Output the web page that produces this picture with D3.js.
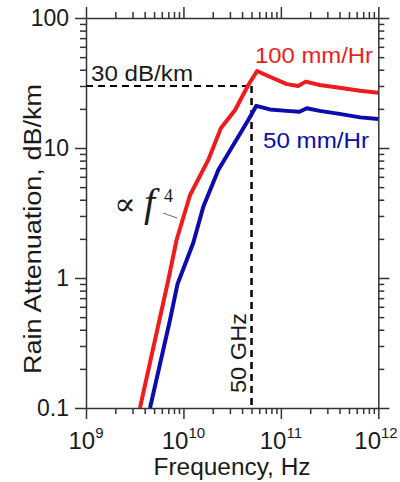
<!DOCTYPE html>
<html><head><meta charset="utf-8">
<script src="https://cdn.jsdelivr.net/npm/d3@7"></script>
<style>
html,body{margin:0;padding:0;background:#fff;}
svg{display:block;font-family:Arial,"Liberation Sans",sans-serif;}
</style></head><body>
<svg id="chart" width="400" height="482"></svg>
<script>
// Specific rain attenuation versus frequency for two rain rates
const freq100 = [3.58e9, 7.0e9, 8.5e9, 1.17e10, 1.8e10, 2.42e10, 3.39e10, 4.63e10, 5.7e10, 7.7e10, 1.15e11, 1.5e11, 1.8e11, 2.5e11, 4.0e11, 6.5e11, 1e12];
const atten100 = [0.1, 0.97, 1.96, 4.35, 8.1, 14.2, 19.6, 30.5, 39.1, 35.3, 31.0, 30.0, 32.4, 30.5, 29.1, 27.6, 26.6];
const freq50 = [4.54e9, 7.28e9, 8.7e9, 1.26e10, 1.6e10, 2.28e10, 4.63e10, 5.6e10, 7.7e10, 1.15e11, 1.55e11, 1.85e11, 2.5e11, 4.0e11, 6.5e11, 1e12];
const atten50 = [0.1, 0.475, 0.9, 1.86, 3.53, 6.78, 16.4, 21.1, 19.8, 19.3, 19.0, 20.2, 19.3, 18.3, 17.2, 16.7];
const xTickExponents = [9, 10, 11, 12];
const yTickValues = [0.1, 1, 10, 100];
const yTickLabels = ["0.1", "1", "10", "100"];
const refAtten = 30;   // dB/km reference level
const refFreq = 5e10;  // 50 GHz marker

const svg = d3.select("#chart");
const L = 86, R = 378.3, T = 18, B = 408;
const x = d3.scaleLog().domain([1e9, 1e12]).range([L, R]);
const y = d3.scaleLog().domain([0.1, 100]).range([B, T]);

const xMajor = xTickExponents.map(e => Math.pow(10, e));
const xMinor = [];
for (let e = 9; e < 12; e++) for (let m = 2; m <= 9; m++) xMinor.push(m * Math.pow(10, e));
const yMinor = [];
for (let e = -1; e < 2; e++) for (let m = 2; m <= 9; m++) yMinor.push(m * Math.pow(10, e));

const axisColor = "#333";
function styleAxis(g) {
  g.selectAll("path.domain").attr("stroke", axisColor).attr("stroke-width", 1.5);
  g.selectAll(".tick line").attr("stroke", axisColor).attr("stroke-width", 1.5);
  g.selectAll(".tick text").remove();
}
function drawAxis(gen, tx, ty, major, minor) {
  const gMaj = svg.append("g").attr("transform", `translate(${tx},${ty})`)
    .call(gen.tickValues(major).tickSize(11).tickSizeOuter(0).tickFormat(""));
  styleAxis(gMaj);
  const gMin = svg.append("g").attr("transform", `translate(${tx},${ty})`)
    .call(gen.tickValues(minor).tickSize(6).tickSizeOuter(0).tickFormat(""));
  styleAxis(gMin);
  gMin.select("path.domain").remove();
}
drawAxis(d3.axisBottom(x), 0, B, xMajor, xMinor);
drawAxis(d3.axisTop(x), 0, T, xMajor, xMinor);
drawAxis(d3.axisLeft(y), L, 0, yTickValues, yMinor);
drawAxis(d3.axisRight(y), R, 0, yTickValues, yMinor);

// tick labels
svg.append("g").selectAll("text").data(yTickValues).join("text")
  .attr("x", 69).attr("y", d => y(d)).attr("dy", "0.36em")
  .attr("text-anchor", "end").attr("font-size", 23).attr("fill", "#1a1a1a")
  .text((d, i) => yTickLabels[i]);

const xl = svg.append("g").selectAll("text").data(xTickExponents).join("text")
  .attr("x", d => Math.min(x(Math.pow(10, d)), 376)).attr("y", 449)
  .attr("text-anchor", "middle").attr("font-size", 24).attr("fill", "#1a1a1a");
xl.append("tspan").text("10");
xl.append("tspan").attr("dy", -11).attr("font-size", 15).text(d => d);

// axis titles
svg.append("text").attr("x", 232).attr("y", 475).attr("text-anchor", "middle")
  .attr("font-size", 23).attr("fill", "#1a1a1a")
  .attr("textLength", 157).attr("lengthAdjust", "spacingAndGlyphs")
  .text("Frequency, Hz");
svg.append("text").attr("transform", "translate(41,229) rotate(-90)")
  .attr("text-anchor", "middle").attr("font-size", 23).attr("fill", "#1a1a1a")
  .attr("textLength", 290).attr("lengthAdjust", "spacingAndGlyphs")
  .text("Rain Attenuation, dB/km");

// reference lines
svg.append("line").attr("x1", L).attr("x2", x(refFreq))
  .attr("y1", y(refAtten)).attr("y2", y(refAtten))
  .attr("stroke", "#000").attr("stroke-width", 2).attr("stroke-dasharray", "7,5");
svg.append("line").attr("x1", x(refFreq)).attr("x2", x(refFreq))
  .attr("y1", y(refAtten)).attr("y2", B)
  .attr("stroke", "#000").attr("stroke-width", 2.5).attr("stroke-dasharray", "7,5");

svg.append("text").attr("x", 91).attr("y", 81).attr("font-size", 22).attr("fill", "#1a1a1a")
  .attr("textLength", 102).attr("lengthAdjust", "spacingAndGlyphs").text("30 dB/km");
svg.append("text").attr("transform", `translate(${x(refFreq) - 6},353) rotate(-90)`)
  .attr("text-anchor", "middle").attr("font-size", 22).attr("fill", "#1a1a1a")
  .attr("textLength", 80).attr("lengthAdjust", "spacingAndGlyphs").text("50 GHz");

// curves
svg.append("clipPath").attr("id", "plot-clip").append("rect")
  .attr("x", L).attr("y", T).attr("width", R - L).attr("height", B - T);
const line = d3.line().x(d => x(d[0])).y(d => y(d[1]));
const series = [
  { f: freq100, v: atten100, color: "#ee1c1c" },
  { f: freq50, v: atten50, color: "#0c0cae" }
];
svg.append("g").attr("clip-path", "url(#plot-clip)").selectAll("path").data(series).join("path")
  .attr("d", s => line(d3.zip(s.f, s.v)))
  .attr("fill", "none").attr("stroke", s => s.color).attr("stroke-width", 4)
  .attr("stroke-linejoin", "round");

svg.append("text").attr("x", 255).attr("y", 63).attr("font-size", 22).attr("fill", "#ee1c1c")
  .attr("textLength", 118).attr("lengthAdjust", "spacingAndGlyphs").text("100 mm/Hr");
svg.append("text").attr("x", 263).attr("y", 148).attr("font-size", 22).attr("fill", "#0c0cae")
  .attr("textLength", 106).attr("lengthAdjust", "spacingAndGlyphs").text("50 mm/Hr");

// proportionality annotation
svg.append("text").attr("x", 114).attr("y", 215).attr("font-size", 32)
  .attr("font-family", "'DejaVu Serif', 'Liberation Serif', serif").attr("fill", "#1a1a1a").text("∝");
svg.append("text").attr("x", 144).attr("y", 216).attr("font-size", 40).attr("font-style", "italic")
  .attr("font-family", "'Liberation Serif', 'Times New Roman', serif").attr("fill", "#1a1a1a").text("f");
svg.append("text").attr("x", 164).attr("y", 202).attr("font-size", 18)
  .attr("font-family", "'Liberation Serif', 'Times New Roman', serif").attr("fill", "#1a1a1a").text("4");
svg.append("line").attr("x1", 163).attr("y1", 213).attr("x2", 177).attr("y2", 218)
  .attr("stroke", "#666").attr("stroke-width", 1);
</script>
</body></html>
